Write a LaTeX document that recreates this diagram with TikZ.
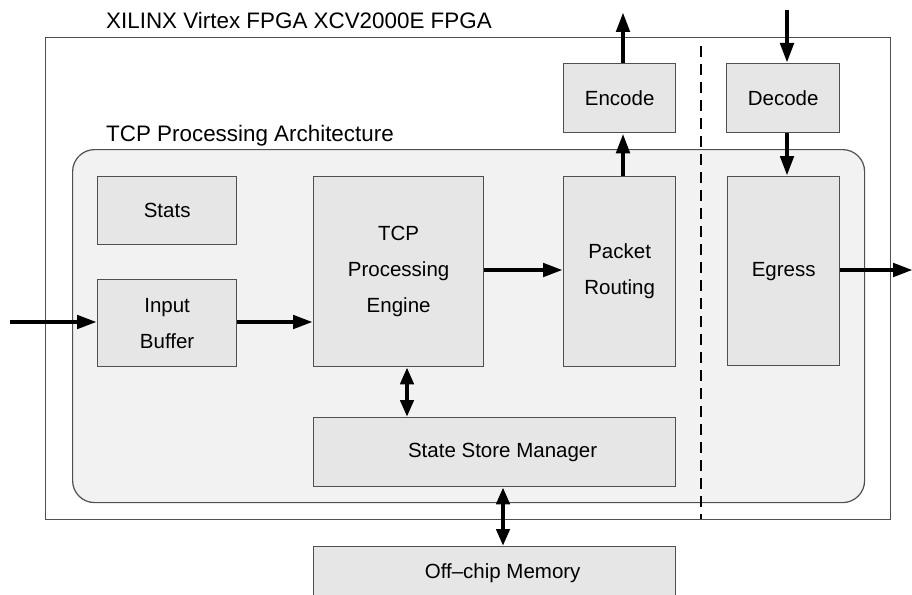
\documentclass[tikz,border=0pt]{standalone}
\usepackage{fontspec}
\setmainfont{Liberation Sans}
\usetikzlibrary{arrows.meta}
\definecolor{boxfill}{HTML}{E6E6E6}
\definecolor{innerfill}{HTML}{F2F2F2}
\definecolor{edge}{HTML}{505050}
\tikzset{
  blk/.style={draw=edge, line width=1.3pt, fill=boxfill, anchor=north west, inner sep=0pt, align=center,
    font=\fontsize{20.5}{36}\selectfont},
  arr/.style={line width=4.6pt, -{Triangle[length=20pt,width=13pt]}},
  darr/.style={line width=4.6pt, {Triangle[length=17pt,width=13pt]}-{Triangle[length=17pt,width=13pt]}},
  ttl/.style={anchor=base west, inner sep=0pt, font=\fontsize{22.4}{26}\selectfont}
}
\begin{document}
\begin{tikzpicture}[x=1pt,y=-1pt]
\useasboundingbox (0,0) rectangle (912,594);
\clip (0,0) rectangle (912,594);
\fill[white] (0,0) rectangle (912,594);
% outer FPGA box
\node[draw=edge, line width=1.2pt, fill=white, anchor=north west, minimum width=845pt, minimum height=482pt, inner sep=0pt] (fpga) at (45,37) {};
\node[ttl] (fpgat) at (106,29) {XILINX Virtex FPGA XCV2000E FPGA};
% inner rounded box
\node[draw=edge, line width=1.2pt, fill=innerfill, rounded corners=22pt, anchor=north west, minimum width=792pt, minimum height=353pt, inner sep=0pt] (tcp) at (72,149) {};
\node[ttl] (tcpt) at (106,141) {TCP Processing Architecture};
% dashed divider
\coordinate (dtop) at (701,46);
\coordinate (dbot) at (701,519);
\draw[line width=1.8pt, dash pattern=on 11pt off 7pt] (dtop) -- (dbot);
% blocks
\node[blk, minimum width=139pt, minimum height=68pt] (stats) at (97,176) {Stats};
\node[blk, minimum width=139pt, minimum height=87pt] (ibuf) at (97,279) {Input\\Buffer};
\node[blk, minimum width=170pt, minimum height=190pt] (eng) at (313,176) {TCP\\Processing\\Engine};
\node[blk, minimum width=112pt, minimum height=190pt] (prt) at (563,176) {Packet\\Routing};
\node[blk, minimum width=112pt, minimum height=189pt] (egr) at (727,176) {Egress};
\node[blk, minimum width=112pt, minimum height=69pt] (enc) at (563,63) {Encode};
\node[blk, minimum width=113pt, minimum height=69pt] (dec) at (726,63) {Decode};
\node[blk, minimum width=362pt, minimum height=69pt] (ssm) at (313,417) {\hspace*{16pt}State Store Manager};
\node[blk, minimum width=362pt, minimum height=54pt] (mem) at (313,546) {\hspace*{16pt}Off\textendash chip Memory};
% connector coordinates
\coordinate (inL) at (10,322);
\coordinate (outR) at (913,270);
\coordinate (encx) at (623,0);
\coordinate (encTop) at (623,12);
\coordinate (decx) at (787,0);
\coordinate (decTop) at (787,10);
\coordinate (ex) at (407,0);
\coordinate (mx) at (503,0);
% arrows
\draw[arr] (inL) -- (ibuf.west |- inL);
\draw[arr] (ibuf.east |- inL) -- (eng.west |- inL);
\draw[arr] (eng.east |- outR) -- (prt.west |- outR);
\draw[arr] (encx |- prt.north) -- (encx |- enc.south);
\draw[arr] (encx |- enc.north) -- (encTop);
\draw[arr] (decTop) -- (decx |- dec.north);
\draw[arr] (decx |- dec.south) -- (decx |- egr.north);
\draw[arr] (egr.east |- outR) -- (outR);
\draw[darr] (ex |- eng.south) -- (ex |- ssm.north);
\draw[darr] (mx |- ssm.south) -- (mx |- mem.north);
\end{tikzpicture}
\end{document}
